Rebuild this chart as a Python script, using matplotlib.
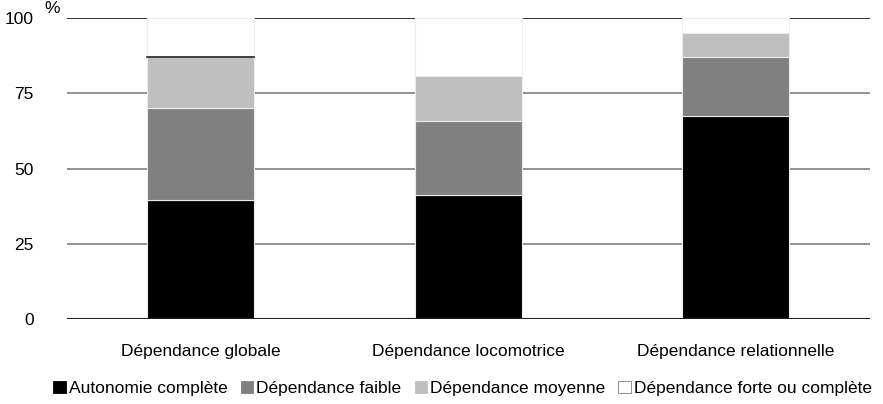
import numpy as np
import matplotlib.pyplot as plt
from matplotlib.patches import Patch

plt.rcParams['font.family'] = ['Liberation Sans', 'DejaVu Sans']

categories = ["Dépendance globale", "Dépendance locomotrice", "Dépendance relationnelle"]
series_names = ["Autonomie complète", "Dépendance faible", "Dépendance moyenne",
                "Dépendance forte ou complète"]
autonomie = [39.5, 41.4, 67.5]
faible = [30.6, 24.5, 19.7]
moyenne = [17.1, 14.9, 7.8]
forte = [12.8, 19.2, 5.0]

colors = ["#000000", "#808080", "#bfbfbf", "#ffffff"]
series = [autonomie, faible, moyenne, forte]

fig = plt.figure(figsize=(8.83, 4.04), dpi=100)
ax = fig.add_axes([0.0759, 0.21, 0.909, 0.745])

x = np.arange(len(categories))
bottom = np.zeros(len(categories))
for vals, col in zip(series, colors):
    ax.bar(x, vals, 0.4, bottom=bottom, color=col, edgecolor="#ececec",
           linewidth=0.8, zorder=3)
    bottom += np.array(vals)

# dark top line on the first bar's "moyenne" segment
top1 = autonomie[0] + faible[0] + moyenne[0]
ax.plot([x[0] - 0.2, x[0] + 0.2], [top1, top1], color="#222222", lw=1.2, zorder=4)

for yv in [25, 50, 75]:
    ax.axhline(yv, color="#7f7f7f", lw=1.2, zorder=1)
ax.axhline(100, color="#111111", lw=1.2, zorder=1)
ax.axhline(0, color="#222222", lw=1.5, zorder=4)

ax.set_xlim(-0.5, 2.5)
ax.set_ylim(0, 100)
ax.set_yticks([0, 25, 50, 75, 100])
ax.set_xticks(x)
ax.set_xticklabels(categories)
ax.tick_params(axis="y", length=0, pad=24, labelsize=12.5)
ax.tick_params(axis="x", length=0, pad=18, labelsize=12.5)
for s in ax.spines.values():
    s.set_visible(False)

fig.text(0.05, 0.96, "%", fontsize=12.5, ha="left", va="bottom")

handles = [Patch(facecolor=c, edgecolor="#808080" if c == "#ffffff" else c, lw=0.6)
           for c in colors]
fig.legend(handles, series_names, loc="lower center", bbox_to_anchor=(0.524, -0.02),
           ncol=4, frameon=False, fontsize=12.5, handlelength=0.7, handleheight=0.7,
           handletextpad=0.2, columnspacing=0.75)

fig.savefig("out.png", dpi=100)
